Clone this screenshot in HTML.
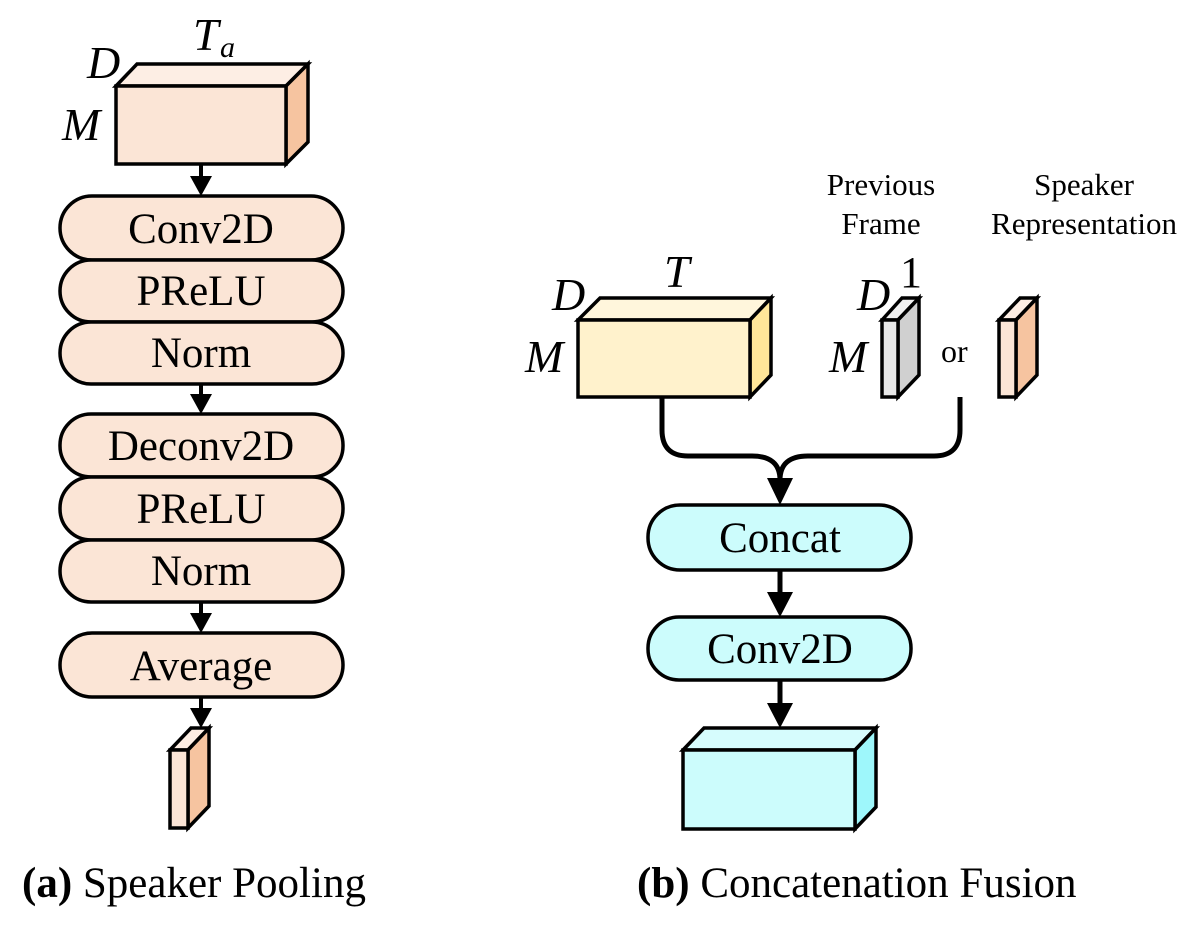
<!DOCTYPE html>
<html><head><meta charset="utf-8"><style>
html,body{margin:0;padding:0;background:#fff;}
svg{display:block;}
text{font-family:"Liberation Serif",serif;fill:#000;}
</style></head><body>
<svg width="1200" height="929" viewBox="0 0 1200 929" xmlns="http://www.w3.org/2000/svg">
<g stroke="#000" stroke-width="3.5" stroke-linejoin="miter">
<polygon points="116,86 137,64 308,64 286,86" fill="#fdeee4"/>
<polygon points="286,86 308,64 308,142 286,164" fill="#f6c4a0"/>
<rect x="116" y="86" width="170" height="78" fill="#fbe5d6"/>
<rect x="60" y="196" width="283" height="64" rx="32" fill="#fbe5d6"/>
<rect x="60" y="260" width="283" height="62" rx="31" fill="#fbe5d6"/>
<rect x="60" y="322" width="283" height="62" rx="31" fill="#fbe5d6"/>
<rect x="60" y="414" width="283" height="63" rx="31" fill="#fbe5d6"/>
<rect x="60" y="477" width="283" height="63" rx="31" fill="#fbe5d6"/>
<rect x="60" y="540" width="283" height="62" rx="31" fill="#fbe5d6"/>
<rect x="60" y="633" width="283" height="64" rx="32" fill="#fbe5d6"/>
<polygon points="170,750 191,728 209,728 188,750" fill="#fdeee4"/>
<polygon points="188,750 209,728 209,806 188,828" fill="#f6c4a0"/>
<rect x="170" y="750" width="18" height="78" fill="#fbe5d6"/>
<polygon points="578,320 600,298 771,298 750,320" fill="#fff6dc"/>
<polygon points="750,320 771,298 771,375 750,397" fill="#ffe699"/>
<rect x="578" y="320" width="172" height="77" fill="#fff2cc"/>
<polygon points="882,320 902,298 919,298 898,320" fill="#f2f2f2"/>
<polygon points="898,320 919,298 919,375 898,397" fill="#d0d0d0"/>
<rect x="882" y="320" width="16" height="77" fill="#e8e8e8"/>
<polygon points="999,320 1020,298 1037,298 1016,320" fill="#fdeee4"/>
<polygon points="1016,320 1037,298 1037,375 1016,397" fill="#f6c4a0"/>
<rect x="999" y="320" width="17" height="77" fill="#fbe5d6"/>
<path d="M662,397 V430 Q662,456 688,456 H752 Q780,456 780,480" fill="none" stroke-width="5"/>
<path d="M960,397 V430 Q960,456 934,456 H808 Q780,456 780,480" fill="none" stroke-width="5"/>
<rect x="648" y="505" width="263" height="65" rx="32" fill="#ccfcfc"/>
<rect x="648" y="617" width="263" height="63" rx="31" fill="#ccfcfc"/>
<polygon points="683,750 704,728 876,728 855,750" fill="#d6fcfd"/>
<polygon points="855,750 876,728 876,807 855,829" fill="#9ef7fb"/>
<rect x="683" y="750" width="172" height="79" fill="#ccfcfc"/>
</g>
<g stroke="#000" stroke-width="4">
<line x1="201" y1="164" x2="201" y2="180"/>
<line x1="201" y1="384" x2="201" y2="398"/>
<line x1="201" y1="602" x2="201" y2="617"/>
<line x1="201" y1="697" x2="201" y2="712"/>
</g>
<g stroke="#000" stroke-width="5">
<line x1="780" y1="570" x2="780" y2="600"/>
<line x1="780" y1="680" x2="780" y2="710"/>
</g>
<g fill="#000">
<polygon points="190,176 212,176 201,196"/>
<polygon points="190,394 212,394 201,414"/>
<polygon points="190,613 212,613 201,633"/>
<polygon points="190,708 212,708 201,728"/>
<polygon points="767,478 793,478 780,505"/>
<polygon points="767,592 793,592 780,617"/>
<polygon points="767,703 793,703 780,728"/>
</g>
<g font-size="43" text-anchor="middle">
<text x="201" y="243">Conv2D</text>
<text x="201" y="305">PReLU</text>
<text x="201" y="367">Norm</text>
<text x="201" y="460">Deconv2D</text>
<text x="201" y="523">PReLU</text>
<text x="201" y="585">Norm</text>
<text x="201" y="680">Average</text>
<text x="780" y="552">Concat</text>
<text x="780" y="663">Conv2D</text>
</g>
<g font-size="46" font-style="italic">
<text x="87" y="78">D</text>
<text x="193" y="50">T</text>
<text x="220" y="57" font-size="30">a</text>
<text x="62" y="140">M</text>
<text x="552" y="310">D</text>
<text x="664" y="287">T</text>
<text x="525" y="372">M</text>
<text x="857" y="310">D</text>
<text x="829" y="372">M</text>
</g>
<text x="900" y="287" font-size="44">1</text>
<text x="941" y="362" font-size="32">or</text>
<g font-size="31" text-anchor="middle">
<text x="881" y="195">Previous</text>
<text x="881" y="234">Frame</text>
<text x="1084" y="195">Speaker</text>
<text x="1084" y="234">Representation</text>
</g>
<text x="22" y="897" font-size="43"><tspan font-weight="bold">(a)</tspan> Speaker Pooling</text>
<text x="637" y="897" font-size="43"><tspan font-weight="bold">(b)</tspan> Concatenation Fusion</text>
</svg>
</body></html>
